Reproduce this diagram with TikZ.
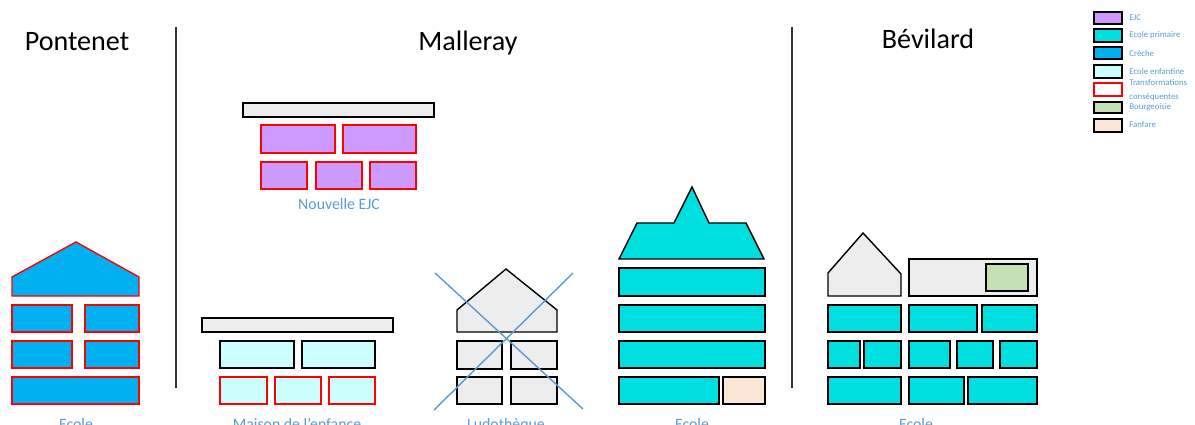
\documentclass[tikz,border=0pt]{standalone}
\usepackage{fontspec}
\setmainfont{Carlito}
\definecolor{ejc}{HTML}{CC99FF}
\definecolor{primaire}{HTML}{00DFDF}
\definecolor{creche}{HTML}{00B0F0}
\definecolor{enfantine}{HTML}{CCFFFF}
\definecolor{bourgeoisie}{HTML}{C5E0B4}
\definecolor{fanfare}{HTML}{FBE5D6}
\definecolor{gris}{HTML}{EDEDED}
\definecolor{legende}{HTML}{5B9BD5}
\begin{document}
\begin{tikzpicture}[x=0.02cm, y=-0.02cm]
	\tikzset{bloc/.style={draw=black, line width=0.8pt}, transf/.style={draw=red, line width=0.8pt}};
	\tikzset{titre/.style={font=\fontsize{16}{19}\selectfont, anchor=base}, nom/.style={font=\fontsize{9}{11}\selectfont, text=legende, anchor=base}};
	\tikzset{leg/.style={font=\fontsize{5}{8}\selectfont, text=legende, anchor=west, inner sep=0pt, align=left}};
	\useasboundingbox (0,0) rectangle (1195,425);

	% titres
	\node[titre] (pontenet) at (77,51) {Pontenet};
	\node[titre] (malleray) at (468,51) {Malleray};
	\node[titre] (bevilard) at (928,49) {Bévilard};
	\draw[line width=0.8pt, black!80] (176,27) -- (176,388);
	\draw[line width=0.8pt, black!80] (792,27) -- (792,388);

	% Pontenet
	\draw[transf, fill=creche] (12,296) -- (12,277) -- (76,242) -- (139,277) -- (139,296) -- cycle;
	\draw[transf, fill=creche] (12,305) rectangle (72,332);
	\draw[transf, fill=creche] (85,305) rectangle (139,332);
	\draw[transf, fill=creche] (12,341) rectangle (72,368);
	\draw[transf, fill=creche] (85,341) rectangle (139,368);
	\draw[transf, fill=creche] (12,377) rectangle (139,404);
	\node[nom] (ecoleP) at (76,429) {Ecole};

	% Nouvelle EJC
	\draw[bloc, fill=gris] (243,103) rectangle (434,117);
	\draw[transf, fill=ejc] (261,125) rectangle (335,153);
	\draw[transf, fill=ejc] (343,125) rectangle (416,153);
	\draw[transf, fill=ejc] (261,162) rectangle (307,189);
	\draw[transf, fill=ejc] (316,162) rectangle (362,189);
	\draw[transf, fill=ejc] (370,162) rectangle (416,189);
	\node[nom] (nejc) at (339,210) {Nouvelle EJC};

	% Maison de l'enfance
	\draw[bloc, fill=gris] (202,318) rectangle (393,332);
	\draw[bloc, fill=enfantine] (220,341) rectangle (294,368);
	\draw[bloc, fill=enfantine] (302,341) rectangle (375,368);
	\draw[transf, fill=enfantine] (220,377) rectangle (267,404);
	\draw[transf, fill=enfantine] (275,377) rectangle (321,404);
	\draw[transf, fill=enfantine] (329,377) rectangle (375,404);
	\node[nom] (maison) at (297,429) {Maison de l’enfance};

	% Ludotheque
	\draw[bloc, fill=gris] (457,332) -- (457,310) -- (506,269) -- (557,310) -- (557,332) -- cycle;
	\draw[bloc, fill=gris] (457,341) rectangle (502,369);
	\draw[bloc, fill=gris] (511,341) rectangle (557,369);
	\draw[bloc, fill=gris] (457,377) rectangle (502,404);
	\draw[bloc, fill=gris] (511,377) rectangle (557,404);
	\draw[legende, line width=0.8pt] (435,273) -- (583,409);
	\draw[legende, line width=0.8pt] (573,273) -- (434,410);
	\node[nom] (ludo) at (506,429) {Ludothèque};

	% Ecole Malleray
	\draw[bloc, fill=primaire] (619,259) -- (637,223) -- (674,223) -- (692,187) -- (709,223) -- (746,223) -- (764,259) -- cycle;
	\draw[bloc, fill=primaire] (619,268) rectangle (765,296);
	\draw[bloc, fill=primaire] (619,305) rectangle (765,332);
	\draw[bloc, fill=primaire] (619,341) rectangle (765,368);
	\draw[bloc, fill=primaire] (619,377) rectangle (719,404);
	\draw[bloc, fill=fanfare] (723,377) rectangle (765,404);
	\node[nom] (ecoleM) at (692,429) {Ecole};

	% Ecole Bevilard
	\draw[bloc, fill=gris] (828,296) -- (828,273) -- (863,233) -- (901,274) -- (901,296) -- cycle;
	\draw[bloc, fill=gris] (909,259) rectangle (1037,296);
	\draw[bloc, fill=bourgeoisie] (986,264) rectangle (1028,291);
	\draw[bloc, fill=primaire] (828,305) rectangle (901,332);
	\draw[bloc, fill=primaire] (909,305) rectangle (977,332);
	\draw[bloc, fill=primaire] (982,305) rectangle (1037,332);
	\draw[bloc, fill=primaire] (828,341) rectangle (860,368);
	\draw[bloc, fill=primaire] (864,341) rectangle (901,368);
	\draw[bloc, fill=primaire] (909,341) rectangle (950,368);
	\draw[bloc, fill=primaire] (957,341) rectangle (993,368);
	\draw[bloc, fill=primaire] (1000,341) rectangle (1037,368);
	\draw[bloc, fill=primaire] (828,377) rectangle (901,404);
	\draw[bloc, fill=primaire] (909,377) rectangle (964,404);
	\draw[bloc, fill=primaire] (968,377) rectangle (1037,404);
	\node[nom] (ecoleB) at (916,429) {Ecole};

	% legende
	\draw[bloc, fill=ejc] (1094,12) rectangle (1122,24);
	\draw[bloc, fill=primaire] (1094,29) rectangle (1122,42);
	\draw[bloc, fill=creche] (1094,47) rectangle (1122,59);
	\draw[bloc, fill=enfantine] (1094,65) rectangle (1122,78);
	\draw[transf, fill=white] (1094,83) rectangle (1122,96);
	\draw[bloc, fill=bourgeoisie] (1094,102) rectangle (1122,113);
	\draw[bloc, fill=fanfare] (1094,119) rectangle (1122,132);
	\node[leg] (l1) at (1129,18) {EJC};
	\node[leg] (l2) at (1129,35) {Ecole primaire};
	\node[leg] (l3) at (1129,53) {Crèche};
	\node[leg] (l4) at (1129,71) {Ecole enfantine};
	\node[leg] (l5) at (1129,90) {Transformations\\conséquentes};
	\node[leg] (l6) at (1129,107) {Bourgeoisie};
	\node[leg] (l7) at (1129,125) {Fanfare};
\end{tikzpicture}
\end{document}
